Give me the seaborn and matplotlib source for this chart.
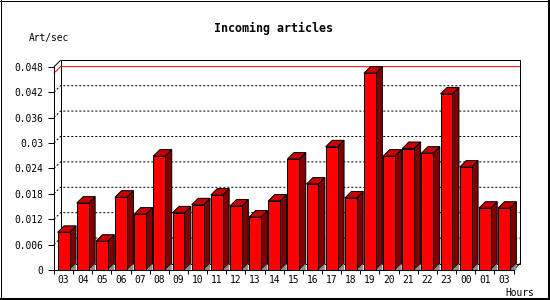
import numpy as np
import pandas as pd
import matplotlib
matplotlib.use("Agg")
import matplotlib.pyplot as plt
from matplotlib.patches import Polygon, Rectangle
from matplotlib.lines import Line2D
import seaborn as sns

# ---- data ----
hours = ["03", "04", "05", "06", "07", "08", "09", "10", "11", "12", "13", "14",
         "15", "16", "17", "18", "19", "20", "21", "22", "23", "00", "01", "03"]
rates = [0.0089, 0.0158, 0.0068, 0.0172, 0.0132, 0.0269, 0.0135, 0.0154,
         0.0177, 0.0151, 0.0125, 0.0163, 0.0262, 0.0203, 0.0291, 0.0170,
         0.0465, 0.0269, 0.0287, 0.0276, 0.0416, 0.0243, 0.0146, 0.0146]
yticks = [0, 0.006, 0.012, 0.018, 0.024, 0.03, 0.036, 0.042, 0.048]
ytick_labels = ["0", "0.006", "0.012", "0.018", "0.024", "0.03", "0.036", "0.042", "0.048"]
title = "Incoming articles"
ylabel = "Art/sec"
xlabel = "Hours"

sns.set_theme(style="white")
plt.rcParams["font.family"] = ["DejaVu Sans Mono", "DejaVu Sans"]

W, H, DPI = 550, 300, 100
fig = plt.figure(figsize=(W / DPI, H / DPI), dpi=DPI)
fig.patch.set_facecolor("white")

ax_l, ax_r, ax_b, ax_t = 54, 513.5, 270, 66.8
ax = fig.add_axes([ax_l / W, 1 - ax_b / H, (ax_r - ax_l) / W, (ax_b - ax_t) / H])
ax.set_facecolor("none")

df = pd.DataFrame({"slot": np.arange(len(rates)), "rate": rates})
sns.barplot(data=df, x="slot", y="rate", color="#ff0000", saturation=1,
            width=0.62, edgecolor="black", linewidth=0.72, ax=ax, zorder=4)
bars = list(ax.patches)

ymax = yticks[-1]
ax.set_xlim(-0.5, len(rates) - 0.5)
ax.set_ylim(0, ymax)

# depth of the 3D effect in data units
depth_px = 6.5
px_x = (ax_r - ax_l) / (len(rates))
px_y = (ax_b - ax_t) / ymax
dx = depth_px / px_x
dy = depth_px / px_y
x0, x1 = -0.5, len(rates) - 0.5

lw = 0.72
# back wall
ax.add_patch(Rectangle((x0 + dx, dy), x1 - x0, ymax, fill=False, edgecolor="black",
                       linewidth=lw, clip_on=False, zorder=1))
# left side top edge and right bottom edge
ax.add_line(Line2D([x0, x0 + dx], [ymax, ymax + dy], color="black", lw=lw, clip_on=False, zorder=1))
ax.add_line(Line2D([x1, x1 + dx], [0, dy], color="black", lw=lw, clip_on=False, zorder=1))

# dotted grid on back wall + left side
for v in yticks[1:-1]:
    ax.add_line(Line2D([x0, x0 + dx, x1 + dx], [v, v + dy, v + dy], color="black", lw=lw,
                       linestyle=(0, (2, 2)), clip_on=False, zorder=1))

# max line
m = max(rates)
ax.add_line(Line2D([x0, x0 + dx, x1 + dx], [m, m + dy, m + dy], color="#ff0000", lw=lw,
                   clip_on=False, zorder=2))

# 3D faces for bars
for p in bars:
    xl = p.get_x()
    xr = xl + p.get_width()
    h = p.get_height()
    side = Polygon([(xr, 0), (xr, h), (xr + dx, h + dy), (xr + dx, dy)], closed=True,
                   facecolor="#800000", edgecolor="black", linewidth=lw, clip_on=False, zorder=3)
    top = Polygon([(xl, h), (xl + dx, h + dy), (xr + dx, h + dy), (xr, h)], closed=True,
                  facecolor="#c80000", edgecolor="black", linewidth=lw, clip_on=False, zorder=3)
    shade = Polygon([(xr, 0), (xr + dx, dy), (xr + dx, 0)], closed=True,
                    facecolor="#8c8c8c", edgecolor="none", clip_on=False, zorder=3.5)
    ax.add_patch(side)
    ax.add_patch(top)
    ax.add_patch(shade)

# axes styling
for s in ["top", "right"]:
    ax.spines[s].set_visible(False)
for s in ["left", "bottom"]:
    ax.spines[s].set_color("black")
    ax.spines[s].set_linewidth(lw)
    ax.spines[s].set_zorder(5)

ax.set_yticks(yticks)
ax.set_yticklabels(ytick_labels)
ax.set_xticks(np.arange(len(rates)))
ax.set_xticklabels(hours)
ax.set_xticks(np.arange(len(rates) + 1) - 0.5, minor=True)
ax.tick_params(axis="x", which="major", length=0, pad=3.6, labelsize=6.9, colors="black")
ax.tick_params(axis="x", which="minor", bottom=True, length=3, width=lw, color="black")
ax.tick_params(axis="y", which="major", left=True, length=4, width=lw, pad=4,
               labelsize=6.9, colors="black")
ax.set_xlabel("")
ax.set_ylabel("")
ax.grid(False)

fig.text(273.6 / W, 1 - 28.6 / H, title, ha="center", va="center",
         fontsize=8.4, fontweight="bold", color="black")
fig.text(29.0 / W, 1 - 38.5 / H, ylabel, ha="left", va="center", fontsize=6.9, color="black")
fig.text(534 / W, 1 - 292.5 / H, xlabel, ha="right", va="center", fontsize=6.9, color="black")

# figure frame (thin top/left, thick right/bottom)
fig.add_artist(Line2D([0.5 / W, 0.5 / W], [0, 1], color="black", lw=0.72, transform=fig.transFigure))
fig.add_artist(Line2D([0, 1], [1 - 0.5 / H, 1 - 0.5 / H], color="black", lw=0.72, transform=fig.transFigure))
fig.add_artist(Line2D([1 - 1.5 / W, 1 - 1.5 / W], [0, 1], color="black", lw=2.2, transform=fig.transFigure))
fig.add_artist(Line2D([0, 1], [1.5 / H, 1.5 / H], color="black", lw=2.2, transform=fig.transFigure))

fig.savefig("out.png", dpi=DPI)
